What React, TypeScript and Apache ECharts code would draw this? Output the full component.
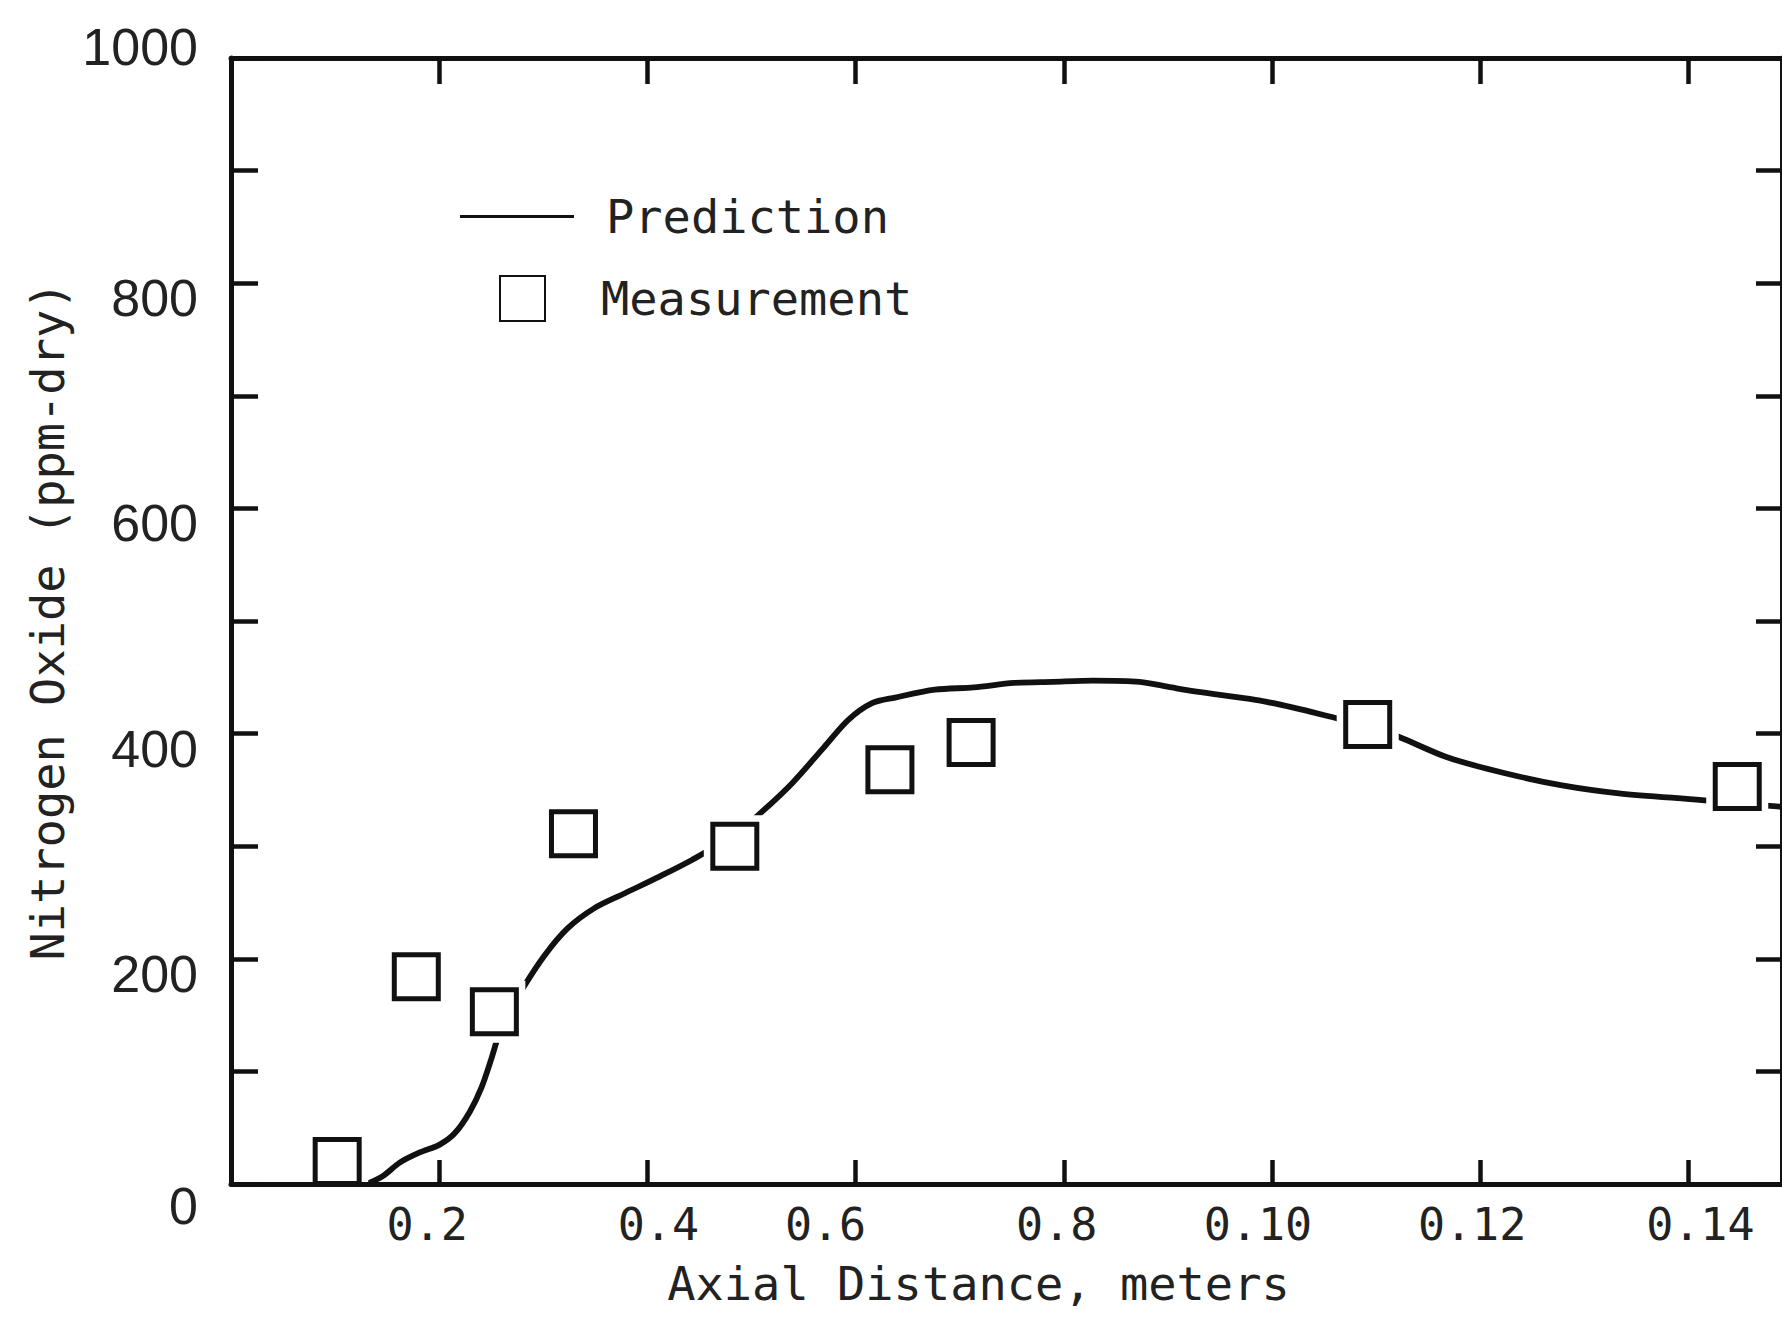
import React, { useEffect, useRef } from "react";
import * as echarts from "echarts";

// ---- data ----
const xTickValues = [0.02, 0.04, 0.06, 0.08, 0.1, 0.12, 0.14];
const xTickLabels = ["0.2", "0.4", "0.6", "0.8", "0.10", "0.12", "0.14"];
const yLabelValues = [0, 200, 400, 600, 800, 1000];

const measurementX = [0.0102, 0.0178, 0.0253, 0.0329, 0.0484, 0.0633, 0.0711, 0.1092, 0.1447];
const measurementY = [20, 184, 153, 311, 300, 368, 392, 408, 353];

const predictionX = [
  0.01305, 0.01458, 0.01621, 0.01813, 0.02005, 0.02149, 0.02293, 0.02408, 0.02504, 0.02571,
  0.02676, 0.02811, 0.03012, 0.03233, 0.03492, 0.03779, 0.04115, 0.04432, 0.04835, 0.05094,
  0.05391, 0.05698, 0.05928, 0.06158, 0.06379, 0.06763, 0.07137, 0.0752, 0.07894, 0.08278,
  0.08729, 0.09036, 0.09295, 0.09842, 0.10206, 0.10647, 0.10916, 0.11223, 0.11683, 0.1223,
  0.12787, 0.13333, 0.1413, 0.14475, 0.14897,
];
const predictionY = [
  0, 7, 19, 28, 35, 45, 64, 86, 112, 132,
  153, 175, 203, 227, 245, 258, 273, 288, 310, 330,
  356, 388, 412, 427, 432, 439, 441, 445, 446, 447,
  446, 441, 437, 430, 423, 413, 407, 397, 379, 365,
  354, 347, 341, 338, 335,
];

// style: horizontal nudge (px) of the hand-set x tick labels in the scan
const xLabelNudge = [-12, 11, -30, -7, -14, -8, 12];

const MONO = "'DejaVu Sans Mono', 'Liberation Mono', monospace";
const SANS = "'Liberation Sans Narrow', 'Liberation Sans', Arial, sans-serif";
const INK = "#111111";
const TEXT = "#222222";

export default function App() {
  const ref = useRef<HTMLDivElement>(null);

  useEffect(() => {
    document.body.style.margin = "0";
    if (!ref.current) return;
    const chart = echarts.init(ref.current, null, { renderer: "svg" });

    const prediction = predictionX.map((x, i) => [x, predictionY[i]]);
    const measurement = measurementX.map((x, i) => [x, measurementY[i]]);

    const xLabel = (v: number) => {
      const i = xTickValues.findIndex((t) => Math.abs(t - v) < 1e-9);
      return i >= 0 ? `{l${i}|${xTickLabels[i]}}` : "";
    };
    const xRich: Record<string, any> = {};
    xLabelNudge.forEach((n, i) => {
      xRich[`l${i}`] = {
        fontFamily: MONO,
        fontSize: 45,
        color: TEXT,
        padding: n >= 0 ? [0, 0, 0, 2 * n] : [0, -2 * n, 0, 0],
      };
    });

    const yLabel = (v: number) => {
      if (!yLabelValues.includes(v)) return "";
      if (v === 1000) return `{t|${v}}`;
      if (v === 0) return `{b|${v}}`;
      return `{m|${v}}`;
    };

    const yLabelStyle = { fontFamily: SANS, fontSize: 52, color: TEXT };
    const axisLine = { show: true, onZero: false, lineStyle: { color: INK, width: 5 } };

    chart.setOption({
      animation: false,
      backgroundColor: "#ffffff",
      grid: { left: 231, top: 58, right: -5, bottom: 133, containLabel: false },
      legend: [
        {
          data: [{ name: "Prediction", icon: "rect" }],
          left: 460,
          top: 193,
          padding: 0,
          itemWidth: 114,
          itemHeight: 3,
          selectedMode: false,
          itemStyle: { color: INK, borderWidth: 0 },
          textStyle: { fontFamily: MONO, fontSize: 47, color: TEXT, padding: [0, 0, 0, 27] },
        },
        {
          data: ["Measurement"],
          left: 499,
          top: 275,
          padding: 0,
          itemWidth: 45,
          itemHeight: 45,
          selectedMode: false,
          textStyle: { fontFamily: MONO, fontSize: 47, color: TEXT, padding: [20, 0, 0, 51] },
        },
      ],
      xAxis: [
        {
          type: "value",
          position: "bottom",
          min: 0,
          max: 0.149,
          interval: 0.02,
          z: 10,
          name: "Axial Distance, meters",
          nameLocation: "middle",
          nameGap: 76,
          nameTextStyle: { fontFamily: MONO, fontSize: 47, color: TEXT, padding: [0, 56, 0, 0] },
          splitLine: { show: false },
          axisLine,
          axisTick: { show: true, inside: true, length: 24, lineStyle: { color: INK, width: 4.5 } },
          axisLabel: {
            show: true,
            margin: 18,
            formatter: xLabel,
            showMaxLabel: false,
            rich: xRich,
          },
        },
        {
          type: "value",
          position: "top",
          min: 0,
          max: 0.149,
          interval: 0.02,
          z: 10,
          splitLine: { show: false },
          axisLine,
          axisTick: { show: true, inside: true, length: 26, lineStyle: { color: INK, width: 4.5 } },
          axisLabel: { show: false },
        },
      ],
      yAxis: [
        {
          type: "value",
          position: "left",
          min: 0,
          max: 1000,
          interval: 100,
          z: 10,
          name: "Nitrogen Oxide (ppm-dry)",
          nameLocation: "middle",
          nameGap: 160,
          nameRotate: 90,
          nameTextStyle: { fontFamily: MONO, fontSize: 47, color: TEXT },
          splitLine: { show: false },
          axisLine,
          axisTick: { show: true, inside: true, length: 27, lineStyle: { color: INK, width: 4.5 } },
          axisLabel: {
            show: true,
            margin: 33,
            formatter: yLabel,
            rich: {
              t: { ...yLabelStyle, padding: [0, 0, 22, 0] },
              m: { ...yLabelStyle, padding: [30, 0, 0, 0] },
              b: { ...yLabelStyle, padding: [44, 0, 0, 0] },
            },
          },
        },
        {
          type: "value",
          position: "right",
          min: 0,
          max: 1000,
          interval: 100,
          z: 10,
          splitLine: { show: false },
          axisLine,
          axisTick: { show: true, inside: true, length: 26, lineStyle: { color: INK, width: 4.5 } },
          axisLabel: { show: false },
        },
      ],
      series: [
        {
          name: "Prediction",
          type: "line",
          data: prediction,
          smooth: 0.3,
          symbol: "none",
          showSymbol: false,
          z: 2,
          lineStyle: { color: INK, width: 5.8 },
          itemStyle: { color: INK },
        },
        {
          name: "gap",
          type: "scatter",
          data: measurement,
          symbol: "rect",
          symbolSize: 62,
          silent: true,
          z: 3,
          itemStyle: { color: "#ffffff", opacity: 1 },
        },
        {
          name: "Measurement",
          type: "scatter",
          data: measurement,
          symbol: "rect",
          symbolSize: 44,
          z: 4,
          itemStyle: { color: "#ffffff", borderColor: INK, borderWidth: 5, opacity: 1 },
        },
      ],
    });

    return () => chart.dispose();
  }, []);

  return <div ref={ref} style={{ width: 1782, height: 1317 }} />;
}
